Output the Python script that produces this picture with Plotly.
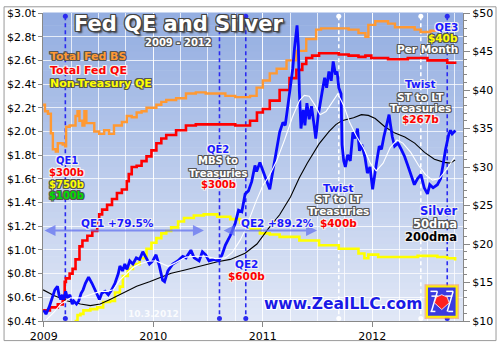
import plotly.graph_objects as go

# ---------------- data (x in decimal years) ----------------
silver_t = [2009.000, 2009.021, 2009.050, 2009.081, 2009.102, 2009.126, 2009.140, 2009.156, 2009.171, 2009.185,
            2009.201, 2009.216, 2009.239, 2009.261, 2009.275, 2009.300, 2009.320, 2009.342, 2009.360, 2009.381,
            2009.410, 2009.441, 2009.462, 2009.486, 2009.509, 2009.531, 2009.561, 2009.590, 2009.621, 2009.651,
            2009.680, 2009.696, 2009.720, 2009.741, 2009.761, 2009.786, 2009.815, 2009.846, 2009.876, 2009.905,
            2009.936, 2009.966, 2009.996, 2010.026, 2010.056, 2010.086, 2010.104, 2010.134, 2010.179, 2010.224,
            2010.269, 2010.299, 2010.344, 2010.374, 2010.419, 2010.449, 2010.479, 2010.509, 2010.554, 2010.599,
            2010.629, 2010.659, 2010.704, 2010.749, 2010.779, 2010.809, 2010.839, 2010.869, 2010.899, 2010.929,
            2010.944, 2010.974, 2010.989, 2011.019, 2011.049, 2011.064, 2011.094, 2011.124, 2011.154, 2011.184,
            2011.205, 2011.229, 2011.253, 2011.274, 2011.289, 2011.304, 2011.313, 2011.325, 2011.334, 2011.349,
            2011.370, 2011.385, 2011.403, 2011.424, 2011.445, 2011.469, 2011.484, 2011.505, 2011.523, 2011.544,
            2011.565, 2011.583, 2011.604, 2011.625, 2011.643, 2011.664, 2011.679, 2011.694, 2011.715, 2011.724,
            2011.739, 2011.754, 2011.775, 2011.799, 2011.823, 2011.844, 2011.865, 2011.883, 2011.904, 2011.934,
            2011.955, 2011.979, 2012.003, 2012.015, 2012.039, 2012.063, 2012.084, 2012.105, 2012.129, 2012.153,
            2012.165, 2012.183, 2012.204, 2012.234, 2012.264, 2012.294, 2012.324, 2012.354, 2012.384, 2012.414,
            2012.444, 2012.474, 2012.504, 2012.525, 2012.555, 2012.594, 2012.624, 2012.645, 2012.669, 2012.699,
            2012.714, 2012.729, 2012.759]
silver_p = [11.4, 10.9, 11.8, 13.0, 14.05, 14.5, 13.4, 12.8, 13.4, 12.8,
            13.85, 13.0, 13.4, 12.2, 12.6, 12.2, 12.6, 13.6, 14.05, 14.9,
            15.7, 14.9, 14.3, 13.6, 12.8, 13.6, 13.85, 13.4, 14.05, 14.9,
            16.1, 17.15, 16.5, 17.4, 16.7, 17.8, 17.4, 18.2, 18.0, 19.0,
            18.2, 17.4, 17.8, 18.6, 17.15, 15.3, 15.1, 16.5, 17.4, 17.8,
            18.4, 18.2, 19.2, 18.2, 17.8, 19.0, 18.6, 17.8, 18.0, 17.8,
            18.6, 19.85, 21.1, 22.7, 24.4, 24.2, 26.5, 26.9, 28.1, 30.2,
            29.4, 30.6, 30.0, 28.75, 27.7, 27.1, 29.6, 32.1, 34.5, 35.8,
            35.4, 37.9, 40.3, 42.8, 45.3, 47.0, 48.4, 45.7, 39.9, 35.0,
            37.4, 35.4, 38.3, 36.2, 37.9, 35.4, 33.7, 36.6, 37.9, 39.9,
            41.6, 40.3, 42.4, 41.2, 43.7, 42.0, 42.4, 40.3, 39.5, 32.9,
            30.8, 30.0, 31.6, 30.8, 34.5, 33.7, 35.0, 32.1, 32.9, 31.2,
            29.2, 30.0, 27.1, 28.5, 30.6, 32.7, 32.3, 33.9, 35.2, 36.8,
            35.6, 33.9, 32.7, 33.1, 32.3, 31.4, 30.2, 29.0, 27.7, 28.5,
            29.0, 27.3, 26.5, 27.7, 27.3, 27.7, 28.5, 30.2, 32.3, 34.3,
            34.75, 34.3, 34.75]

dma50_t = [2009.021, 2009.095, 2009.156, 2009.246, 2009.336, 2009.426, 2009.516, 2009.576, 2009.635, 2009.696,
           2009.756, 2009.815, 2009.876, 2009.966, 2010.026, 2010.085, 2010.137, 2010.209, 2010.299, 2010.389,
           2010.479, 2010.569, 2010.659, 2010.722, 2010.794, 2010.839, 2010.884, 2010.938, 2011.001, 2011.064,
           2011.127, 2011.199, 2011.271, 2011.334, 2011.379, 2011.424, 2011.478, 2011.523, 2011.577, 2011.640,
           2011.685, 2011.739, 2011.793, 2011.856, 2011.919, 2011.982, 2012.036, 2012.099, 2012.162, 2012.225,
           2012.279, 2012.351, 2012.423, 2012.486, 2012.549, 2012.612, 2012.684, 2012.747]
dma50_p = [10.1, 11.15, 12.2, 13.0, 13.0, 13.4, 13.85, 13.85, 14.05, 15.3,
           16.1, 16.95, 17.4, 17.8, 17.8, 17.4, 17.1, 17.6, 18.3, 18.4,
           18.4, 18.1, 18.2, 18.9, 20.5, 21.8, 23.5, 25.5, 27.6, 29.0,
           30.8, 33.5, 36.5, 38.6, 39.3, 39.2, 38.0, 36.8, 37.2, 38.5,
           39.5, 38.0, 35.8, 34.0, 32.5, 30.5, 29.5, 30.5, 32.5, 33.5,
           33.1, 31.9, 30.2, 29.0, 28.3, 28.5, 29.8, 31.2]

dma200_t = [2008.995, 2009.093, 2009.219, 2009.336, 2009.426, 2009.516, 2009.606, 2009.723, 2009.849, 2009.966,
            2010.083, 2010.164, 2010.281, 2010.389, 2010.479, 2010.587, 2010.704, 2010.839, 2010.947, 2011.046,
            2011.154, 2011.253, 2011.334, 2011.406, 2011.514, 2011.604, 2011.667, 2011.721, 2011.829, 2011.901,
            2011.964, 2012.027, 2012.117, 2012.207, 2012.297, 2012.387, 2012.477, 2012.567, 2012.657, 2012.711,
            2012.756]
dma200_p = [14.05, 13.3, 12.6, 12.2, 12.0, 12.2, 12.8, 13.6, 14.5, 15.1,
            15.7, 16.2, 16.6, 17.0, 17.3, 17.7, 18.0, 18.8, 20.0, 21.9,
            23.8, 26.1, 28.6, 30.5, 33.0, 34.6, 35.5, 36.0, 36.4, 36.8,
            36.7, 36.3, 35.2, 34.4, 33.9, 33.1, 31.9, 31.0, 30.6, 30.5,
            30.9]

# Fed balance sheet series, $ trillions
fed_bs_t = [2008.995, 2009.012, 2009.039, 2009.066, 2009.084, 2009.111, 2009.129, 2009.147, 2009.174, 2009.196,
            2009.205, 2009.237, 2009.291, 2009.309, 2009.327, 2009.354, 2009.372, 2009.390, 2009.426, 2009.462,
            2009.507, 2009.552, 2009.597, 2009.642, 2009.714, 2009.759, 2009.804, 2009.849, 2009.894, 2009.939,
            2009.984, 2010.029, 2010.074, 2010.119, 2010.209, 2010.299, 2010.389, 2010.479, 2010.569, 2010.659,
            2010.749, 2010.839, 2010.884, 2010.944, 2011.001, 2011.064, 2011.127, 2011.217, 2011.307, 2011.397,
            2011.487, 2011.532, 2011.667, 2011.784, 2011.874, 2011.937, 2011.964, 2012.027, 2012.144, 2012.207,
            2012.297, 2012.387, 2012.441, 2012.531, 2012.621, 2012.684, 2012.756]
fed_bs = [2.225, 2.17, 2.15, 1.985, 1.85, 1.83, 1.90, 1.90, 1.89, 1.875,
          2.04, 2.05, 2.13, 2.17, 2.09, 2.05, 2.17, 2.07, 2.07, 2.00,
          1.98, 2.01, 1.98, 2.05, 2.08, 2.13, 2.12, 2.16, 2.17, 2.20,
          2.20, 2.225, 2.25, 2.265, 2.28, 2.32, 2.33, 2.32, 2.32, 2.30,
          2.29, 2.29, 2.30, 2.37, 2.43, 2.49, 2.53, 2.60, 2.68, 2.78,
          2.86, 2.87, 2.87, 2.86, 2.83, 2.80, 2.90, 2.93, 2.91, 2.88,
          2.88, 2.86, 2.84, 2.85, 2.87, 2.87, 2.88]

fed_qe_t = [2008.995, 2009.057, 2009.129, 2009.174, 2009.192, 2009.203, 2009.237, 2009.264, 2009.291, 2009.327,
            2009.354, 2009.399, 2009.444, 2009.489, 2009.507, 2009.534, 2009.579, 2009.624, 2009.669, 2009.714,
            2009.759, 2009.777, 2009.804, 2009.849, 2009.894, 2009.939, 2009.984, 2010.029, 2010.074, 2010.119,
            2010.209, 2010.299, 2010.389, 2010.524, 2010.614, 2010.749, 2010.839, 2010.884, 2010.947, 2011.001,
            2011.064, 2011.154, 2011.244, 2011.307, 2011.361, 2011.397, 2011.451, 2011.514, 2011.694, 2011.784,
            2011.874, 2011.937, 2011.991, 2012.144, 2012.324, 2012.504, 2012.594, 2012.684, 2012.756]
fed_qe = [0.49, 0.515, 0.54, 0.58, 0.73, 0.76, 0.80, 0.84, 0.92, 1.03,
          1.08, 1.12, 1.16, 1.24, 1.30, 1.34, 1.38, 1.43, 1.48, 1.51,
          1.58, 1.64, 1.70, 1.71, 1.75, 1.79, 1.84, 1.90, 1.94, 1.97,
          2.01, 2.05, 2.06, 2.06, 2.06, 2.05, 2.05, 2.09, 2.16, 2.19,
          2.26, 2.35, 2.45, 2.52, 2.57, 2.62, 2.64, 2.66, 2.65, 2.64,
          2.63, 2.64, 2.62, 2.61, 2.62, 2.60, 2.60, 2.58, 2.57]

non_tsy_t = [2009.282, 2009.309, 2009.336, 2009.363, 2009.426, 2009.489, 2009.543, 2009.606, 2009.651, 2009.696,
             2009.723, 2009.768, 2009.815, 2009.876, 2009.939, 2009.984, 2010.029, 2010.074, 2010.119, 2010.164,
             2010.227, 2010.281, 2010.371, 2010.461, 2010.584, 2010.704, 2010.794, 2010.884, 2010.974, 2011.064,
             2011.154, 2011.334, 2011.514, 2011.694, 2011.874, 2011.928, 2011.964, 2012.054, 2012.234, 2012.414,
             2012.594, 2012.684, 2012.756]
non_tsy = [0.40, 0.45, 0.46, 0.49, 0.50, 0.515, 0.56, 0.57, 0.64, 0.69,
           0.78, 0.84, 0.88, 0.93, 1.01, 1.06, 1.10, 1.14, 1.16, 1.19,
           1.24, 1.27, 1.29, 1.30, 1.28, 1.26, 1.23, 1.18, 1.14, 1.13,
           1.11, 1.08, 1.04, 1.01, 0.97, 0.93, 0.96, 0.94, 0.94, 0.95,
           0.94, 0.93, 0.91]

# Fed program announcements
event_t = [2009.198, 2010.605, 2010.845, 2011.694, 2012.443, 2012.684]
event_color = ["#2b2bf0", "#2b2bf0", "#2b2bf0", "white", "white", "#2b2bf0"]

# Silver gains over each QE campaign
qe1_span = [2008.994, 2010.463]
qe2_span = [2010.629, 2011.496]
gain_level = 1.165

X_RANGE = [2008.994, 2012.828]
Y_LEFT = [0.4, 3.0]
Y_RIGHT = [10, 50]
years = [2009, 2010, 2011, 2012]

FONT = "DejaVu Sans"

fig = go.Figure()

# event lines
for t, c in zip(event_t, event_color):
    fig.add_trace(go.Scatter(
        x=[t, t], y=[2.972, 0.422], mode="lines+markers",
        line=dict(color=c, width=1.6, dash="4px,3px"),
        marker=dict(color=c, size=5), hoverinfo="skip", showlegend=False))

# Fed series
fig.add_trace(go.Scatter(x=non_tsy_t, y=non_tsy, mode="lines", line=dict(color="#ffff00", width=2.6, shape="hv"),
                         showlegend=False))
fig.add_trace(go.Scatter(x=fed_qe_t, y=fed_qe, mode="lines", line=dict(color="#ff0000", width=2.6, shape="hv"),
                         showlegend=False))
fig.add_trace(go.Scatter(x=fed_bs_t, y=fed_bs, mode="lines", line=dict(color="#ff9933", width=2.4, shape="hv"),
                         showlegend=False))

# silver and its moving averages
fig.add_trace(go.Scatter(x=dma200_t, y=dma200_p, yaxis="y2", mode="lines", line=dict(color="black", width=1.1),
                         showlegend=False))
fig.add_trace(go.Scatter(x=silver_t, y=silver_p, yaxis="y2", mode="lines", line=dict(color="#0a0aff", width=2.8),
                         showlegend=False))
fig.add_trace(go.Scatter(x=dma50_t, y=dma50_p, yaxis="y2", mode="lines", line=dict(color="white", width=1.1),
                         showlegend=False))


def halo(c, extra=""):
    s = f"-1px -1px 0 {c}, 1px -1px 0 {c}, -1px 1px 0 {c}, 1px 1px 0 {c}, 0 1px 0 {c}, 1px 0 0 {c}, 0 -1px 0 {c}, -1px 0 0 {c}"
    return s + extra


def label(text, x, y, color, ring, size=10, xanchor="center", xref="x", yref="y"):
    fig.add_annotation(x=x, y=y, xref=xref, yref=yref, text=text, showarrow=False,
                       xanchor=xanchor, yanchor="middle",
                       font=dict(family=FONT, size=size, color=color, weight="bold", shadow=halo(ring)))


BLUE = "#1a1aff"
DARK = "#555555"
LIGHT = "#f0f0f0"

# title
fig.add_annotation(x=2010.232, y=2.905, xref="x", yref="y", text="Fed QE and Silver", showarrow=False,
                   font=dict(family=FONT, size=21, color="white", weight="bold",
                             shadow=halo("#444444", ", 2px 2px 2px #333333")))
label("2009 - 2012", 2010.232, 2.755, "white", DARK, size=10)

# series key
label("Total Fed BS", 2009.039, 2.629, "#ff9933", DARK, size=11, xanchor="left")
label("Total Fed QE", 2009.039, 2.518, "#ff0000", LIGHT, size=11, xanchor="left")
label("Non-Treasury QE", 2009.039, 2.405, "#ffff00", DARK, size=11, xanchor="left")

# QE1
label("QE1", 2009.21, 1.753, BLUE, LIGHT)
label("$300b", 2009.21, 1.654, "#ff0000", LIGHT)
label("$750b", 2009.21, 1.551, "#ffff00", DARK)
label("$100b", 2009.21, 1.458, "#00dd00", DARK)

# QE2 MBS reinvestment
label("QE2", 2010.596, 1.848, BLUE, LIGHT)
label("MBS to", 2010.596, 1.753, "white", DARK)
label("Treasuries", 2010.596, 1.646, "white", DARK)
label("$300b", 2010.596, 1.551, "#ff0000", LIGHT)

# QE2
label("QE2", 2010.848, 0.879, BLUE, LIGHT, size=10.5)
label("$600b", 2010.848, 0.784, "#ff0000", LIGHT, size=10.5)

# Twist
label("Twist", 2011.694, 1.525, BLUE, LIGHT, size=10.5)
label("ST to LT", 2011.694, 1.430, "white", DARK, size=10.5)
label("Treasuries", 2011.694, 1.331, "white", DARK, size=10.5)
label("$400b", 2011.694, 1.228, "#ff0000", LIGHT, size=10.5)

# Twist extension
label("Twist", 2012.441, 2.400, BLUE, LIGHT, size=10.5)
label("ST to LT", 2012.441, 2.292, "white", DARK, size=10.5)
label("Treasuries", 2012.441, 2.198, "white", DARK, size=10.5)
label("$267b", 2012.441, 2.104, "#ff0000", LIGHT, size=10.5)

# QE3
label("QE3", 2012.80, 2.884, BLUE, LIGHT, size=10.5, xanchor="right")
label("$40b", 2012.80, 2.790, "#ffff00", DARK, size=10.5, xanchor="right")
label("Per Month", 2012.80, 2.696, "white", DARK, size=10.5, xanchor="right")

# silver key
label("Silver", 2012.792, 1.329, BLUE, LIGHT, size=11.5, xanchor="right")
label("50dma", 2012.792, 1.220, "white", DARK, size=11.5, xanchor="right")
label("200dma", 2012.792, 1.107, "black", LIGHT, size=11.5, xanchor="right")

# QE campaign gain arrows
for span, txt, cx in [(qe1_span, "QE1 +79.5%", 2009.678), (qe2_span, "QE2 +89.2%", 2011.131)]:
    fig.add_annotation(x=span[1], y=gain_level, ax=span[0], ay=gain_level, xref="x", yref="y",
                       axref="x", ayref="y", text="", showarrow=True, arrowhead=2, startarrowhead=2,
                       arrowside="end+start", arrowsize=1.1, arrowwidth=2, arrowcolor="rgba(100,115,240,0.75)")
    label(txt, cx, 1.228, BLUE, LIGHT, size=10.5)

# site and date
label("www.ZealLLC.com", 2011.73, 0.542, "#1a1ae6", "white", size=15.5)
fig.add_annotation(x=2010.006, y=0.461, xref="x", yref="y", text="10.3.2012", showarrow=False,
                   font=dict(family=FONT, size=9, color="rgba(255,255,255,0.85)", weight="bold"))

# background gradient
shapes = []
N = 48
top = (148, 174, 225)
bot = (224, 231, 246)
for i in range(N):
    f = i / (N - 1)
    c = tuple(round(bot[k] + (top[k] - bot[k]) * f) for k in range(3))
    shapes.append(dict(type="rect", xref="paper", yref="paper", x0=0, x1=1, y0=i / N, y1=(i + 1) / N + 0.002,
                       fillcolor=f"rgb{c}", line=dict(width=0), layer="below"))

# logo badge
PW, PH = 426.0, 322.0


def px(x):
    return (x - 40) / PW


def py(y):
    return (329 - y) / PH


shapes.append(dict(type="rect", xref="paper", yref="paper", x0=px(427), x1=px(462), y0=py(327), y1=py(290.5),
                   fillcolor="rgba(255,150,60,0.55)", line=dict(width=0), layer="above"))
shapes.append(dict(type="rect", xref="paper", yref="paper", x0=px(429.5), x1=px(459.5), y0=py(324.5), y1=py(293),
                   fillcolor="#3a3ae0", line=dict(color="#ffee00", width=2), layer="above"))
for (x0, x1, y) in [(433, 440, 298), (449, 456, 298), (433, 438, 319), (451, 456, 319), (434, 441, 303), (448, 455, 303)]:
    shapes.append(dict(type="line", xref="paper", yref="paper", x0=px(x0), x1=px(x1), y0=py(y), y1=py(y),
                       line=dict(color="white", width=1.5), layer="above"))
shapes.append(dict(type="line", xref="paper", yref="paper", x0=px(440), x1=px(434), y0=py(298), y1=py(319),
                   line=dict(color="white", width=1.5), layer="above"))
shapes.append(dict(type="line", xref="paper", yref="paper", x0=px(456), x1=px(450), y0=py(298), y1=py(319),
                   line=dict(color="white", width=1.5), layer="above"))
fan = "M {:.4f},{:.4f} L {:.4f},{:.4f} L {:.4f},{:.4f} L {:.4f},{:.4f} L {:.4f},{:.4f} L {:.4f},{:.4f} Z".format(
    px(444.5), py(317), px(437), py(310), px(439), py(304), px(444.5), py(301.5), px(450), py(304), px(452), py(310))
shapes.append(dict(type="path", xref="paper", yref="paper", path=fan, fillcolor="#ff2020",
                   line=dict(color="#ffffff", width=0.8), layer="above"))

# outer frame
shapes.append(dict(type="rect", xref="paper", yref="paper", x0=px(0.5), x1=px(499.5), y0=py(349.5), y1=py(0.5),
                   line=dict(color="#9a9a9a", width=1), fillcolor="rgba(0,0,0,0)", layer="above"))

fig.update_layout(
    width=500, height=350,
    margin=dict(l=40, r=34, t=7, b=21),
    paper_bgcolor="white", plot_bgcolor="rgba(0,0,0,0)",
    shapes=shapes,
    showlegend=False,
    xaxis=dict(range=X_RANGE, tickvals=years, ticktext=[str(y) for y in years],
               showgrid=True, gridcolor="rgba(255,255,255,0.75)", gridwidth=1,
               minor=dict(dtick=0.25, tick0=2009, showgrid=True, gridcolor="rgba(255,255,255,0.75)", gridwidth=1,
                          ticks=""),
               ticks="outside", ticklen=5, tickcolor="#888888",
               showline=True, linecolor="#888888", linewidth=1, zeroline=False,
               tickfont=dict(family=FONT, size=11, color="black")),
    yaxis=dict(range=Y_LEFT, dtick=0.2, tick0=0.4, tickformat=".1f", tickprefix="$", ticksuffix="t",
               showgrid=True, gridcolor="rgba(255,255,255,0.75)", gridwidth=1,
               ticks="outside", ticklen=4, tickcolor="#888888",
               showline=True, linecolor="#888888", linewidth=1, zeroline=False,
               tickfont=dict(family=FONT, size=11, color="black")),
    yaxis2=dict(range=Y_RIGHT, dtick=5, tick0=10, tickprefix="$", overlaying="y", side="right",
                showgrid=False, ticks="outside", ticklen=6, tickcolor="#888888",
                minor=dict(dtick=1, ticks="outside", ticklen=3, tickcolor="#888888"),
                showline=True, linecolor="#888888", linewidth=1, zeroline=False,
                tickfont=dict(family=FONT, size=11, color="black")),
)

fig.write_html("out.html")
